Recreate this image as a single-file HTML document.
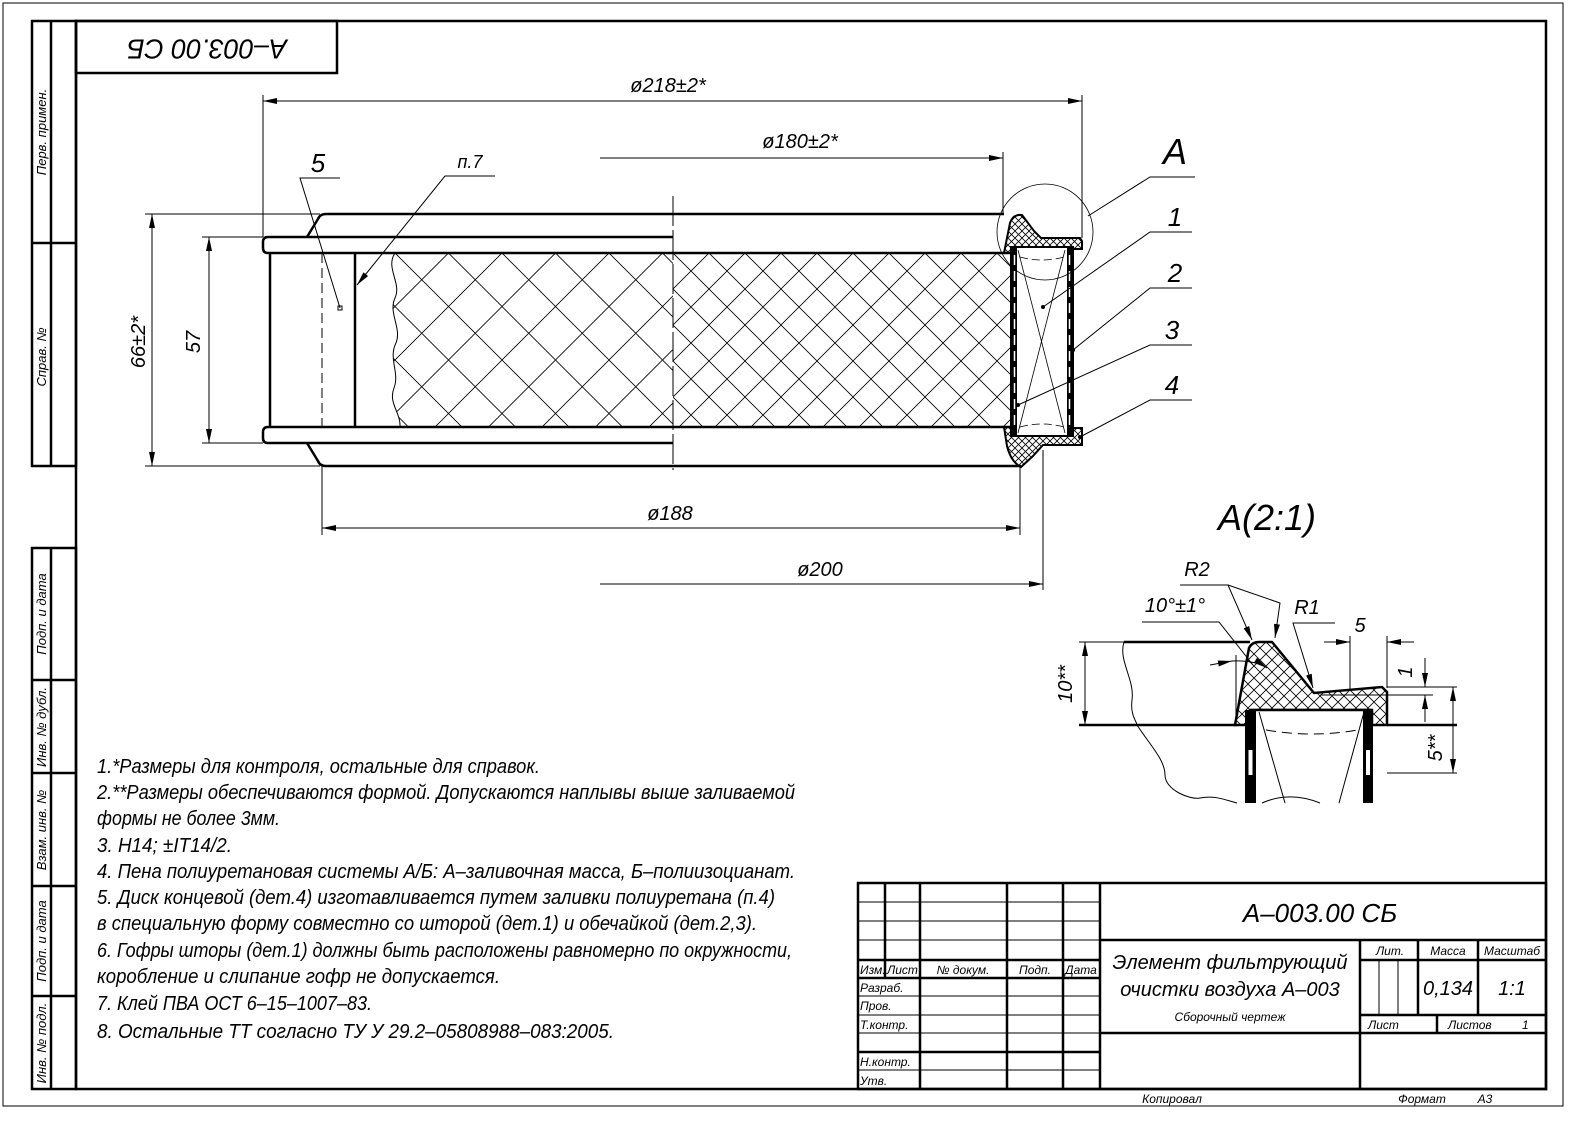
<!DOCTYPE html>
<html><head><meta charset="utf-8"><style>
html,body{margin:0;padding:0;background:#fff;}
svg{display:block;}
text{font-family:"Liberation Sans",sans-serif;font-style:italic;fill:#000;}
</style></head><body>
<svg width="1592" height="1127" viewBox="0 0 1592 1127" xmlns="http://www.w3.org/2000/svg">
<defs>
<pattern id="mesh" x="395" y="253" width="53.5" height="53.5" patternUnits="userSpaceOnUse">
<path d="M0 0 L53.5 53.5 M53.5 0 L0 53.5" stroke="#000" stroke-width="0.8" fill="none"/></pattern>
<pattern id="mesh2" x="673" y="253" width="36" height="36" patternUnits="userSpaceOnUse">
<path d="M0 0 L36 36 M36 0 L0 36" stroke="#000" stroke-width="0.8" fill="none"/></pattern>
<pattern id="hatch" width="7" height="7" patternUnits="userSpaceOnUse">
<path d="M0 0 L7 7 M7 0 L0 7" stroke="#000" stroke-width="0.8" fill="none"/></pattern>
<pattern id="hatch2" width="12" height="12" patternUnits="userSpaceOnUse">
<path d="M0 0 L12 12 M12 0 L0 12" stroke="#000" stroke-width="0.8" fill="none"/></pattern>
<marker id="ar" viewBox="0 0 14 6" refX="14" refY="3" markerWidth="14" markerHeight="6" markerUnits="userSpaceOnUse" orient="auto-start-reverse">
<path d="M0 0 L14 3 L0 6 Z" fill="#000"/></marker>
</defs>
<rect width="1592" height="1127" fill="#fff"/>
<!-- frames -->
<rect x="3" y="3" width="1560" height="1103" fill="none" stroke="#000" stroke-width="1"/>
<rect x="76" y="21" width="1470" height="1068" fill="none" stroke="#000" stroke-width="2.5"/>
<g fill="none" stroke="#000" stroke-width="2.5">
<rect x="32" y="21" width="44" height="445"/><line x1="51" y1="21" x2="51" y2="466"/><line x1="32" y1="243" x2="76" y2="243"/>
<rect x="32" y="548" width="44" height="541"/><line x1="51" y1="548" x2="51" y2="1089"/>
<line x1="32" y1="680" x2="76" y2="680"/><line x1="32" y1="773" x2="76" y2="773"/><line x1="32" y1="886" x2="76" y2="886"/><line x1="32" y1="996" x2="76" y2="996"/>
<rect x="76" y="21" width="261" height="52"/>
</g>
<g font-size="13">
<text transform="translate(46,132) rotate(-90)" text-anchor="middle">Перв. примен.</text>
<text transform="translate(46,357) rotate(-90)" text-anchor="middle">Справ. №</text>
<text transform="translate(46,614) rotate(-90)" text-anchor="middle">Подп. и дата</text>
<text transform="translate(46,727) rotate(-90)" text-anchor="middle">Инв. № дубл.</text>
<text transform="translate(46,830) rotate(-90)" text-anchor="middle">Взам. инв. №</text>
<text transform="translate(46,941) rotate(-90)" text-anchor="middle">Подп. и дата</text>
<text transform="translate(46,1043) rotate(-90)" text-anchor="middle">Инв. № подл.</text>
</g>
<text transform="translate(207,47) rotate(180)" text-anchor="middle" font-size="28" dominant-baseline="middle" textLength="160" lengthAdjust="spacingAndGlyphs">А–003.00 СБ</text>

<!-- main view mesh -->
<path d="M395 253 C385 268 402 283 395 298 C388 313 402 328 396 343 C388 358 400 373 394 388 C388 403 401 413 400 427 L673 427 L673 253 Z" fill="url(#mesh)" stroke="none"/>
<path d="M395 253 C385 268 402 283 395 298 C388 313 402 328 396 343 C388 358 400 373 394 388 C388 403 401 413 400 427" fill="none" stroke="#000" stroke-width="1"/>
<rect x="673" y="253" width="338" height="174" fill="url(#mesh2)"/>
<g fill="none" stroke="#000" stroke-width="2.5">
<path d="M673 237 H268 Q263 237 263 242 V248 Q263 253 268 253 H1011"/>
<path d="M673 443 H268 Q263 443 263 438 V432 Q263 427 268 427 H1011"/>
<line x1="270" y1="253" x2="270" y2="427"/><line x1="355" y1="253" x2="355" y2="427"/>
<path d="M307 237 L318 219 Q320 214 326 214 H1004"/>
<path d="M307 443 L318 461 Q320 466 326 466 H1021"/>
</g>
<line x1="322" y1="253" x2="322" y2="427" stroke="#000" stroke-width="1" stroke-dasharray="10,5"/>
<line x1="673" y1="196" x2="673" y2="470" stroke="#000" stroke-width="1" stroke-dasharray="30,4"/>

<!-- right section caps -->
<path d="M1004 253 L1010 223 Q1013 214 1022 215 L1034 231 L1041 238 H1080 L1082 241 V249 H1073 V247 H1011 V253 Z" fill="url(#hatch)" stroke="#000" stroke-width="2"/>
<path d="M1004 427 L1007 446 Q1011 462 1021 467 L1033 456 L1043 445 H1082 V428 H1073 V436 H1011 V427 Z" fill="url(#hatch)" stroke="#000" stroke-width="2"/>
<rect x="1011" y="247" width="62" height="189" fill="#fff" stroke="#000" stroke-width="2"/>
<rect x="1012" y="248" width="5" height="187" fill="#000"/><rect x="1067" y="248" width="5" height="187" fill="#000"/>
<line x1="1014.5" y1="255" x2="1014.5" y2="430" stroke="#fff" stroke-width="1.5" stroke-dasharray="10,6"/>
<line x1="1069.5" y1="255" x2="1069.5" y2="430" stroke="#fff" stroke-width="1.5" stroke-dasharray="10,6"/>
<g stroke="#000" stroke-width="0.8" fill="none">
<line x1="1018" y1="250" x2="1065" y2="433"/><line x1="1065" y1="250" x2="1018" y2="433"/>
<path d="M1020 257 Q1042 263 1064 257" stroke-dasharray="8,4"/>
<path d="M1020 427 Q1042 421 1064 427" stroke-dasharray="8,4"/>
<circle cx="1045" cy="232" r="48"/>
</g>

<!-- dimensions -->
<g stroke="#000" stroke-width="1" fill="none">
<line x1="263" y1="95" x2="263" y2="237"/><line x1="1082" y1="95" x2="1082" y2="238"/>
<line x1="263" y1="101" x2="1082" y2="101" marker-start="url(#ar)" marker-end="url(#ar)"/>
<line x1="1003" y1="152" x2="1003" y2="214"/>
<line x1="600" y1="158" x2="1003" y2="158" marker-end="url(#ar)"/>
<line x1="145" y1="214" x2="320" y2="214"/><line x1="145" y1="466" x2="320" y2="466"/>
<line x1="152" y1="214" x2="152" y2="466" marker-start="url(#ar)" marker-end="url(#ar)"/>
<line x1="202" y1="237" x2="263" y2="237"/><line x1="202" y1="443" x2="263" y2="443"/>
<line x1="209" y1="237" x2="209" y2="443" marker-start="url(#ar)" marker-end="url(#ar)"/>
<line x1="322" y1="466" x2="322" y2="535"/><line x1="1020" y1="466" x2="1020" y2="535"/>
<line x1="322" y1="528" x2="1020" y2="528" marker-start="url(#ar)" marker-end="url(#ar)"/>
<line x1="1043" y1="450" x2="1043" y2="590"/>
<line x1="600" y1="584" x2="1043" y2="584" marker-end="url(#ar)"/>
<!-- leaders -->
<polyline points="340,178 300,178 340,308"/><rect x="338" y="306" width="4" height="4"/>
<polyline points="495,176 445,176 357,285" marker-end="url(#ar)"/>
<polyline points="1195,177 1150,177 1088,216"/>
<polyline points="1192,232 1150,232 1043,307"/>
<polyline points="1192,288 1150,288 1073,350"/>
<polyline points="1192,345 1150,345 1018,405"/>
<polyline points="1192,400 1150,400 1080,437"/>
</g>
<g fill="#000"><circle cx="1043" cy="307" r="2"/><circle cx="1073" cy="350" r="2"/><circle cx="1018" cy="405" r="2"/><circle cx="1080" cy="437" r="2"/></g>
<g font-size="20">
<text x="668" y="92" text-anchor="middle">ø218±2*</text>
<text x="800" y="148" text-anchor="middle">ø180±2*</text>
<text x="670" y="520" text-anchor="middle">ø188</text>
<text x="820" y="576" text-anchor="middle">ø200</text>
<text transform="translate(145,342) rotate(-90)" text-anchor="middle">66±2*</text>
<text transform="translate(200,342) rotate(-90)" text-anchor="middle">57</text>
<text x="318" y="172" text-anchor="middle" font-size="26">5</text>
<text x="470" y="168" text-anchor="middle" font-size="18">п.7</text>
<text x="1175" y="164" text-anchor="middle" font-size="36" font-style="normal">A</text>
<text x="1175" y="226" text-anchor="middle" font-size="26">1</text>
<text x="1175" y="282" text-anchor="middle" font-size="26">2</text>
<text x="1172" y="339" text-anchor="middle" font-size="26">3</text>
<text x="1172" y="394" text-anchor="middle" font-size="26">4</text>
<text x="1267" y="530" text-anchor="middle" font-size="36" font-style="normal">A(2:1)</text>
</g>

<!-- detail A -->
<path d="M1235 725 L1249 648 Q1252 642 1259 642 H1272 L1314 693 L1382 687 L1387 692 V725 H1372 V710 H1250 V725 Z" fill="url(#hatch2)" stroke="#000" stroke-width="2.5"/>
<g fill="none" stroke="#000">
<path d="M1124 642 H1250" stroke-width="2.5"/>
<path d="M1079 725 H1237 M1387 725 H1457" stroke-width="2.5"/>
<path d="M1079 642 H1124" stroke-width="1"/>
<path d="M1124 642 C1118 660 1135 680 1132 700 C1130 715 1137 722 1137 725 C1150 745 1165 760 1165 775 C1165 790 1190 800 1200 798 C1215 795 1225 800 1237 803" stroke-width="1"/>
<path d="M1285 803 C1300 790 1320 790 1340 803" stroke-width="1"/>
<rect x="1250" y="710" width="122" height="93" fill="#fff" stroke="none"/>
<line x1="1250" y1="710" x2="1372" y2="710" stroke-width="2.5"/>
<path d="M1259 712 L1285 803 M1364 712 L1339 803" stroke-width="1"/>
<path d="M1266 730 Q1312 738 1358 730" stroke-width="1" stroke-dasharray="10,6"/>
<path d="M1262 803 C1280 795 1300 795 1320 803" stroke-width="1"/>
</g>
<rect x="1245" y="710" width="11" height="93" fill="#000"/><rect x="1363" y="710" width="10" height="93" fill="#000"/>
<rect x="1248.5" y="750" width="4" height="25" fill="#fff"/><rect x="1366" y="750" width="4" height="25" fill="#fff"/>
<g stroke="#000" stroke-width="1" fill="none">
<line x1="1085" y1="642" x2="1085" y2="725" marker-start="url(#ar)" marker-end="url(#ar)"/>
<polyline points="1180,585 1228,585 1252,640" marker-end="url(#ar)"/>
<polyline points="1228,585 1280,603 1275,638" marker-end="url(#ar)"/>
<polyline points="1142,622 1219,622 1253,665"/>
<line x1="1236" y1="655" x2="1236" y2="725"/>
<path d="M1210 665 L1232 661" marker-end="url(#ar)"/>
<path d="M1232 661 Q1255 660 1267 668" marker-end="url(#ar)"/>
<polyline points="1335,623 1293,623 1313,688" marker-end="url(#ar)"/>
<line x1="1350" y1="636" x2="1350" y2="690"/><line x1="1387" y1="636" x2="1387" y2="688"/>
<line x1="1324" y1="642" x2="1350" y2="642" marker-end="url(#ar)"/>
<line x1="1414" y1="642" x2="1387" y2="642" marker-end="url(#ar)"/>
<line x1="1387" y1="687" x2="1457" y2="687"/><line x1="1320" y1="695" x2="1433" y2="695"/>
<line x1="1425" y1="658" x2="1425" y2="687" marker-end="url(#ar)"/>
<line x1="1425" y1="722" x2="1425" y2="695" marker-end="url(#ar)"/>
<line x1="1387" y1="773" x2="1457" y2="773"/>
<line x1="1453" y1="687" x2="1453" y2="773" marker-start="url(#ar)" marker-end="url(#ar)"/>
</g>
<g font-size="20">
<text x="1197" y="576" text-anchor="middle">R2</text>
<text x="1175" y="612" text-anchor="middle">10°±1°</text>
<text x="1307" y="614" text-anchor="middle">R1</text>
<text x="1360" y="632" text-anchor="middle">5</text>
<text transform="translate(1412,672) rotate(-90)" text-anchor="middle">1</text>
<text transform="translate(1072,684) rotate(-90)" text-anchor="middle">10**</text>
<text transform="translate(1442,748) rotate(-90)" text-anchor="middle">5**</text>
</g>

<!-- notes -->
<g font-size="20">
<text x="97" y="773" textLength="443" lengthAdjust="spacingAndGlyphs">1.*Размеры для контроля, остальные для справок.</text>
<text x="97" y="799" textLength="698" lengthAdjust="spacingAndGlyphs">2.**Размеры обеспечиваются формой. Допускаются наплывы выше заливаемой</text>
<text x="97" y="825" textLength="183" lengthAdjust="spacingAndGlyphs">формы не более 3мм.</text>
<text x="97" y="852" textLength="135" lengthAdjust="spacingAndGlyphs">3. H14; ±IT14/2.</text>
<text x="97" y="878" textLength="698" lengthAdjust="spacingAndGlyphs">4. Пена полиуретановая системы А/Б: А–заливочная масса, Б–полиизоцианат.</text>
<text x="97" y="904" textLength="678" lengthAdjust="spacingAndGlyphs">5. Диск концевой (дет.4) изготавливается путем заливки полиуретана (п.4)</text>
<text x="97" y="930" textLength="660" lengthAdjust="spacingAndGlyphs">в специальную форму совместно со шторой (дет.1) и обечайкой (дет.2,3).</text>
<text x="97" y="957" textLength="695" lengthAdjust="spacingAndGlyphs">6. Гофры шторы (дет.1) должны быть расположены равномерно по окружности,</text>
<text x="97" y="983" textLength="403" lengthAdjust="spacingAndGlyphs">коробление и слипание гофр не допускается.</text>
<text x="97" y="1010" textLength="275" lengthAdjust="spacingAndGlyphs">7. Клей ПВА ОСТ 6–15–1007–83.</text>
<text x="97" y="1038" textLength="517" lengthAdjust="spacingAndGlyphs">8. Остальные ТТ согласно ТУ У 29.2–05808988–083:2005.</text>
</g>

<!-- title block -->
<g fill="none" stroke="#000" stroke-width="2.5">
<rect x="858" y="883" width="688" height="206"/>
<line x1="885" y1="883" x2="885" y2="978"/>
<line x1="920" y1="883" x2="920" y2="1089"/>
<line x1="1007" y1="883" x2="1007" y2="1089"/>
<line x1="1063" y1="883" x2="1063" y2="1089"/>
<line x1="1100" y1="883" x2="1100" y2="1089"/>
<line x1="858" y1="960" x2="1100" y2="960"/>
<line x1="858" y1="978" x2="1100" y2="978"/>
<line x1="858" y1="1052" x2="1100" y2="1052"/>
<line x1="1100" y1="940" x2="1546" y2="940"/>
<line x1="1100" y1="1033" x2="1546" y2="1033"/>
<line x1="1360" y1="940" x2="1360" y2="1089"/>
<line x1="1360" y1="960" x2="1546" y2="960"/>
<line x1="1360" y1="1015" x2="1546" y2="1015"/>
<line x1="1418" y1="940" x2="1418" y2="1015"/>
<line x1="1478" y1="940" x2="1478" y2="1015"/>
<line x1="1437" y1="1015" x2="1437" y2="1033"/>
</g>
<g fill="none" stroke="#000" stroke-width="1">
<line x1="858" y1="902" x2="1100" y2="902"/><line x1="858" y1="921" x2="1100" y2="921"/><line x1="858" y1="940" x2="1100" y2="940"/>
<line x1="858" y1="996" x2="1100" y2="996"/><line x1="858" y1="1015" x2="1100" y2="1015"/><line x1="858" y1="1033" x2="1100" y2="1033"/><line x1="858" y1="1070" x2="1100" y2="1070"/>
<line x1="1379" y1="960" x2="1379" y2="1015"/><line x1="1398" y1="960" x2="1398" y2="1015"/>
</g>
<g font-size="12">
<text x="860" y="974">Изм.</text><text x="887" y="974">Лист</text>
<text x="963" y="974" text-anchor="middle">№ докум.</text>
<text x="1035" y="974" text-anchor="middle">Подп.</text>
<text x="1081" y="974" text-anchor="middle">Дата</text>
<text x="860" y="992">Разраб.</text><text x="860" y="1010">Пров.</text><text x="860" y="1029">Т.контр.</text>
<text x="860" y="1066">Н.контр.</text><text x="860" y="1085">Утв.</text>
<text x="1390" y="955" text-anchor="middle">Лит.</text>
<text x="1448" y="955" text-anchor="middle">Масса</text>
<text x="1512" y="955" text-anchor="middle">Масштаб</text>
<text x="1368" y="1029">Лист</text><text x="1448" y="1029">Листов</text><text x="1522" y="1029">1</text>
<text x="1230" y="1021" text-anchor="middle">Сборочный чертеж</text>
<text x="1172" y="1103" text-anchor="middle">Копировал</text>
<text x="1422" y="1103" text-anchor="middle">Формат</text><text x="1485" y="1103" text-anchor="middle">А3</text>
</g>
<text x="1320" y="922" text-anchor="middle" font-size="26">А–003.00 СБ</text>
<text x="1230" y="969" text-anchor="middle" font-size="20">Элемент фильтрующий</text>
<text x="1230" y="996" text-anchor="middle" font-size="20">очистки воздуха А–003</text>
<text x="1448" y="995" text-anchor="middle" font-size="20">0,134</text>
<text x="1512" y="995" text-anchor="middle" font-size="20">1:1</text>
</svg>
</body></html>
